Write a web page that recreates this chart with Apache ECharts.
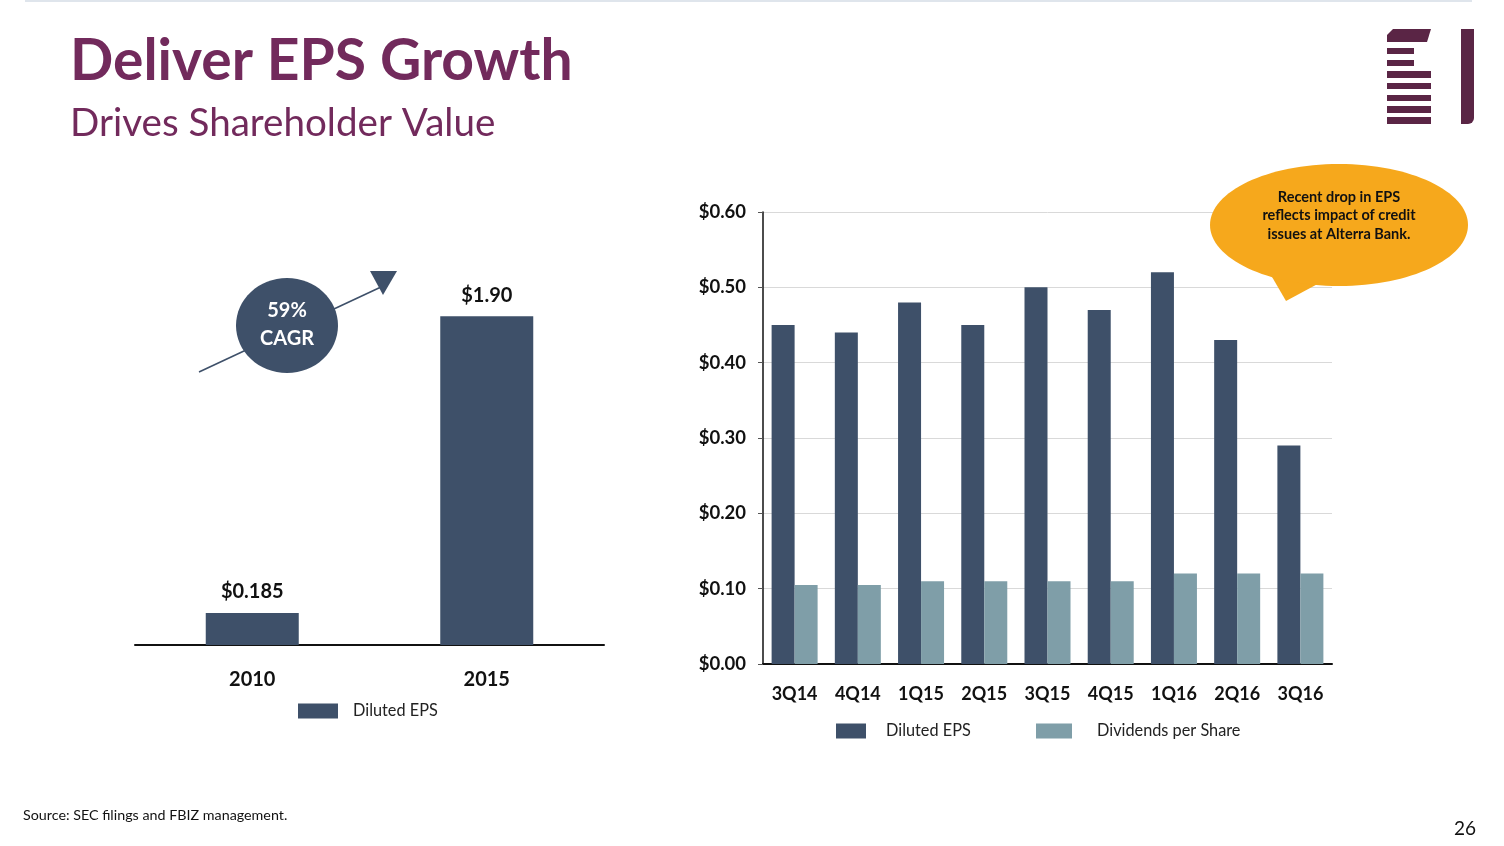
<!DOCTYPE html>
<html>
<head>
<meta charset="utf-8">
<script src="https://cdn.jsdelivr.net/npm/echarts@6/dist/echarts.min.js"></script>
<style>
html,body{margin:0;padding:0;background:#fff;}
#c{width:1504px;height:846px;}
</style>
</head>
<body>
<div id="c"></div>
<script>
// ---- data ----
const years = ['2010', '2015'];
const annualEps = [0.185, 1.90];
const annualLabels = ['$0.185', '$1.90'];

const quarters = ['3Q14', '4Q14', '1Q15', '2Q15', '3Q15', '4Q15', '1Q16', '2Q16', '3Q16'];
const quarterlyEps = [0.45, 0.44, 0.48, 0.45, 0.50, 0.47, 0.52, 0.43, 0.29];
const dividends = [0.105, 0.105, 0.11, 0.11, 0.11, 0.11, 0.12, 0.12, 0.12];

const titleText = 'Deliver EPS Growth';
const subtitleText = 'Drives Shareholder Value';
const cagrLines = ['59%', 'CAGR'];
const calloutLines = ['Recent drop in EPS', 'reflects impact of credit', 'issues at Alterra Bank.'];
const sourceText = 'Source: SEC filings and FBIZ management.';
const pageNum = '26';

// ---- styles ----
const FONT = 'Lato, "Open Sans", sans-serif';
const DARK = '#3e5069';
const LIGHT = '#7f9ea8';
const PURPLE = '#722a5c';
const LOGO = '#5a2545';
const ORANGE = '#f6a81c';

const chart = echarts.init(document.getElementById('c'), null, {renderer: 'canvas'});

const logo = [
  {type: 'polygon', shape: {points: [[1393,29],[1431,29],[1427,42],[1387,42],[1387,35]]}, style: {fill: LOGO}},
  {type: 'rect', shape: {x: 1387, y: 48, width: 27, height: 6}, style: {fill: LOGO}},
  {type: 'rect', shape: {x: 1387, y: 60, width: 27, height: 6}, style: {fill: LOGO}},
  {type: 'rect', shape: {x: 1387, y: 71, width: 44, height: 7}, style: {fill: LOGO}},
  {type: 'rect', shape: {x: 1387, y: 83, width: 44, height: 6}, style: {fill: LOGO}},
  {type: 'rect', shape: {x: 1387, y: 95, width: 44, height: 6}, style: {fill: LOGO}},
  {type: 'rect', shape: {x: 1387, y: 106, width: 44, height: 7}, style: {fill: LOGO}},
  {type: 'rect', shape: {x: 1387, y: 117, width: 44, height: 7}, style: {fill: LOGO}},
  {type: 'rect', shape: {x: 1461, y: 29, width: 13, height: 95, r: [0,0,6,0]}, style: {fill: LOGO}}
];

const legendText = {fontFamily: FONT, fontSize: 16.3, color: '#222'};

const option = {
  backgroundColor: '#fff',
  textStyle: {fontFamily: FONT},
  animation: false,
  title: [
    {text: titleText, left: 65, top: 28, textStyle: {fontFamily: FONT, fontWeight: 'bold', fontSize: 57, color: PURPLE}},
    {text: subtitleText, left: 65, top: 99, textStyle: {fontFamily: FONT, fontWeight: 'normal', fontSize: 38.6, color: PURPLE}}
  ],
  legend: [
    {
      data: ['Diluted EPS'], left: 293, top: 698, itemWidth: 40, itemHeight: 15,
      icon: 'rect', textStyle: Object.assign({padding: [0,0,0,10]}, legendText),
      selectedMode: false
    },
    {
      data: ['Diluted EPS'], left: 831, top: 718, itemWidth: 30, itemHeight: 15,
      icon: 'rect', textStyle: Object.assign({padding: [0,0,0,15]}, legendText),
      selectedMode: false
    },
    {
      data: ['Dividends per Share'], left: 1031, top: 718, itemWidth: 36, itemHeight: 15,
      icon: 'rect', textStyle: Object.assign({padding: [0,0,0,20]}, legendText),
      selectedMode: false
    }
  ],
  grid: [
    {left: 135, right: 900, top: 299, bottom: 201, containLabel: false},
    {left: 763, right: 172, top: 212, bottom: 182, containLabel: false}
  ],
  xAxis: [
    {
      gridIndex: 0, type: 'category', data: years,
      axisLine: {lineStyle: {color: '#111', width: 2}},
      axisTick: {alignWithLabel: true, length: 6, lineStyle: {color: '#666'}},
      axisLabel: {fontFamily: FONT, fontWeight: 'bold', fontSize: 20, color: '#111', margin: 25}
    },
    {
      gridIndex: 1, type: 'category', data: quarters,
      axisLine: {lineStyle: {color: '#111', width: 2}},
      axisTick: {alignWithLabel: true, length: 6, lineStyle: {color: '#666'}},
      axisLabel: {fontFamily: FONT, fontWeight: 'bold', fontSize: 18, color: '#111', margin: 21}
    }
  ],
  yAxis: [
    {gridIndex: 0, type: 'value', min: 0, max: 2, show: false, splitLine: {show: false}},
    {
      gridIndex: 1, type: 'value', min: 0, max: 0.6, interval: 0.1,
      axisLine: {show: true, lineStyle: {color: '#111', width: 1.5}},
      axisTick: {show: true, length: 5, lineStyle: {color: '#555'}},
      splitLine: {lineStyle: {color: '#d9d9d9', width: 1}},
      axisLabel: {fontFamily: FONT, fontWeight: 'bold', fontSize: 18.5, color: '#111', margin: 17,
        formatter: v => '$' + v.toFixed(2)}
    }
  ],
  series: [
    {
      name: 'Diluted EPS', type: 'bar', xAxisIndex: 0, yAxisIndex: 0, data: annualEps,
      barWidth: 93, itemStyle: {color: DARK},
      label: {show: true, position: 'top', distance: 11, fontFamily: FONT, fontWeight: 'bold', fontSize: 20, color: '#111',
        formatter: p => annualLabels[p.dataIndex]}
    },
    {
      name: 'Diluted EPS', type: 'bar', xAxisIndex: 1, yAxisIndex: 1, data: quarterlyEps,
      barWidth: 23, barGap: '0%', itemStyle: {color: DARK}
    },
    {
      name: 'Dividends per Share', type: 'bar', xAxisIndex: 1, yAxisIndex: 1, data: dividends,
      barWidth: 23, barGap: '0%', itemStyle: {color: LIGHT}
    }
  ],
  graphic: [
    // top rule
    {type: 'rect', shape: {x: 25, y: 0, width: 1447, height: 2}, style: {fill: '#dfe5ec'}},
    // CAGR arrow
    {type: 'line', z: 100, shape: {x1: 199, y1: 372, x2: 381, y2: 287}, style: {stroke: DARK, lineWidth: 1.6}},
    {type: 'polygon', z: 100, shape: {points: [[370,271],[397,271],[383,295]]}, style: {fill: DARK}},
    {type: 'ellipse', z: 101, shape: {cx: 287, cy: 325.5, rx: 51, ry: 47.5}, style: {fill: DARK}},
    {type: 'text', z: 102, x: 287, y: 311, style: {text: cagrLines[0], fill: '#fff', font: 'bold 20px ' + FONT, align: 'center', verticalAlign: 'middle'}},
    {type: 'text', z: 102, x: 287, y: 339, style: {text: cagrLines[1], fill: '#fff', font: 'bold 20px ' + FONT, align: 'center', verticalAlign: 'middle'}},
    // callout
    {type: 'polygon', z: 100, shape: {points: [[1268,270],[1325,280],[1286,301]]}, style: {fill: ORANGE}},
    {type: 'ellipse', z: 100, shape: {cx: 1339, cy: 225, rx: 129, ry: 61}, style: {fill: ORANGE}},
    {type: 'text', z: 101, x: 1339, y: 197, style: {text: calloutLines[0], fill: '#111', font: 'bold 14.5px ' + FONT, align: 'center', verticalAlign: 'middle'}},
    {type: 'text', z: 101, x: 1339, y: 215, style: {text: calloutLines[1], fill: '#111', font: 'bold 14.5px ' + FONT, align: 'center', verticalAlign: 'middle'}},
    {type: 'text', z: 101, x: 1339, y: 234, style: {text: calloutLines[2], fill: '#111', font: 'bold 14.5px ' + FONT, align: 'center', verticalAlign: 'middle'}},
    // footer
    {type: 'text', x: 23, y: 815, style: {text: sourceText, fill: '#111', font: '14.3px ' + FONT, align: 'left', verticalAlign: 'middle'}},
    {type: 'text', x: 1476, y: 829, style: {text: pageNum, fill: '#111', font: '19px ' + FONT, align: 'right', verticalAlign: 'middle'}}
  ].concat(logo)
};

chart.setOption(option);
</script>
</body>
</html>
